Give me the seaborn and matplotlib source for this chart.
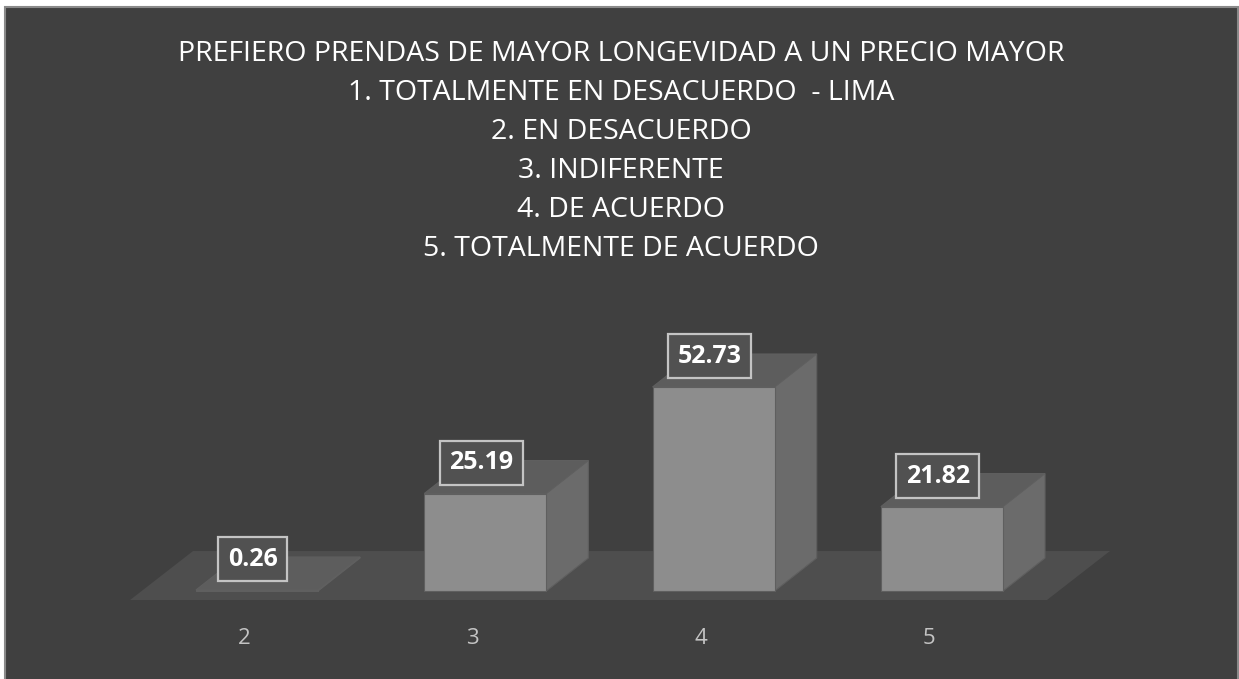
import numpy as np
import pandas as pd
import matplotlib
matplotlib.use("Agg")
import matplotlib.pyplot as plt
import seaborn as sns
from matplotlib.patches import Polygon, Rectangle
from matplotlib.transforms import ScaledTranslation

# data
categories = ["2", "3", "4", "5"]
values = [0.26, 25.19, 52.73, 21.82]
title_lines = [
    "PREFIERO PRENDAS DE MAYOR LONGEVIDAD A UN PRECIO MAYOR",
    "1. TOTALMENTE EN DESACUERDO  - LIMA",
    "2. EN DESACUERDO",
    "3. INDIFERENTE",
    "4. DE ACUERDO",
    "5. TOTALMENTE DE ACUERDO",
]

# colours
BG = "#404040"
FRONT = "#8d8d8d"
SIDE = "#6b6b6b"
TOP = "#5d5d5d"
FLOOR = "#4e4e4e"
EDGE = "#5f5f5f"

sns.set_theme(style="white")
plt.rcParams["font.family"] = ["Open Sans", "DejaVu Sans"]

W, H = 1239, 679
fig = plt.figure(figsize=(W / 100, H / 100), dpi=100, facecolor="white")
# dark chart area with thin gray frame
fig.patches.append(Rectangle((5 / W, -0.01), 1233 / W, 672 / H + 0.01,
                             transform=fig.transFigure, facecolor=BG,
                             edgecolor="#8a8a8a", lw=1.5, zorder=-5))

ax = fig.add_axes([120 / W, 64 / H, 1040 / W, 325 / H])
ax.set_facecolor("none")

df = pd.DataFrame({"respuesta": categories, "porcentaje": values})
sns.barplot(data=df, x="respuesta", y="porcentaje", color=FRONT, saturation=1,
            width=0.535, edgecolor=EDGE, linewidth=0.8, ax=ax, zorder=4)

ax.set_xlim(-0.6, 3.955)
ax.set_ylim(-6.2, 77.8)


def px(dx, dy):
    # convert a pixel offset into data units
    inv = ax.transData.inverted()
    p0 = inv.transform((0, 0))
    p1 = inv.transform((dx, dy))
    return p1[0] - p0[0], p1[1] - p0[1]


# floor of the 3d chart
fx, fy = px(63, 49)
_, fy0 = px(0, -9)
xl, xr = -0.556, 3.46
ax.add_patch(Polygon([(xl, fy0), (xr, fy0), (xr + fx, fy0 + fy), (xl + fx, fy0 + fy)],
                     closed=True, facecolor=FLOOR, edgecolor="none", zorder=1))

# depth faces for each bar
ddx, ddy = px(42, 33)
for bar, v in zip(ax.patches[:len(values)], values):
    x, w, h = bar.get_x(), bar.get_width(), bar.get_height()
    ax.add_patch(Polygon([(x, h), (x + w, h), (x + w + ddx, h + ddy), (x + ddx, h + ddy)],
                         closed=True, facecolor=TOP, edgecolor=EDGE, lw=0.8, zorder=3))
    ax.add_patch(Polygon([(x + w, 0), (x + w + ddx, ddy), (x + w + ddx, h + ddy), (x + w, h)],
                         closed=True, facecolor=SIDE, edgecolor=EDGE, lw=0.8, zorder=3))
    ax.annotate(f"{v:.2f}", xy=(x + w / 2, h), xytext=(-3, 22), textcoords="offset points",
                ha="center", va="center", color="white", fontsize=18, fontweight="bold",
                bbox=dict(boxstyle="square,pad=0.38", fc="#515151", ec="#c4c4c4", lw=1.6),
                zorder=6)

# axes styling
for s in ax.spines.values():
    s.set_visible(False)
ax.set_yticks([])
ax.set_xlabel("")
ax.set_ylabel("")
ax.tick_params(axis="x", length=0, colors="#c4c4c4", labelsize=16, pad=9)
shift = ScaledTranslation(-13 / 100, 0, fig.dpi_scale_trans)
for lbl in ax.get_xticklabels():
    lbl.set_transform(lbl.get_transform() + shift)

# title
for i, line in enumerate(title_lines):
    fig.text(621 / W, 1 - (54 + 39 * i) / H, line, ha="center", va="center",
             color="white", fontsize=20.5)

fig.savefig("out.png", dpi=100, facecolor=fig.get_facecolor())
